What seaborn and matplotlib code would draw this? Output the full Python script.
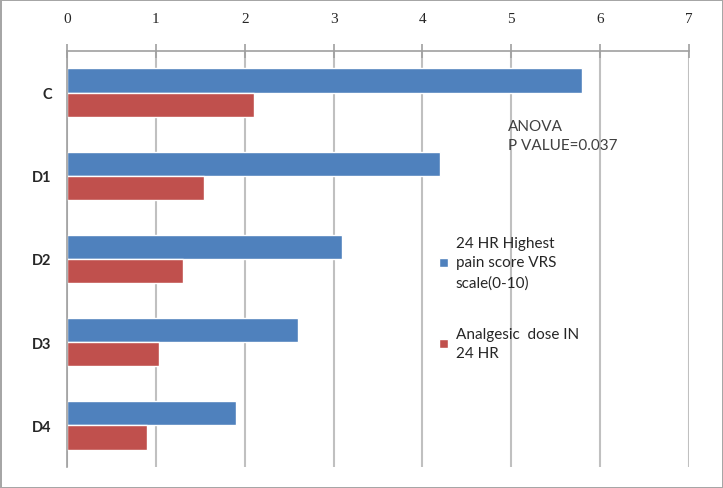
import matplotlib
matplotlib.use("Agg")
import matplotlib.pyplot as plt
import numpy as np
import pandas as pd
import seaborn as sns

groups = ["C", "D1", "D2", "D3", "D4"]
pain_score = [5.8, 4.2, 3.1, 2.6, 1.9]
analgesic_dose = [2.1, 1.54, 1.3, 1.04, 0.9]
series = ["24 HR Highest\npain score VRS\nscale(0-10)", "Analgesic  dose IN\n24 HR"]
xticks = [0, 1, 2, 3, 4, 5, 6, 7]

df = pd.DataFrame({
    "group": groups * 2,
    "value": pain_score + analgesic_dose,
    "series": [series[0]] * len(groups) + [series[1]] * len(groups),
})

sns.set_style("white")
plt.rcParams['font.family'] = ['Lato', 'DejaVu Sans']

fig = plt.figure(figsize=(7.23, 4.89), dpi=100)
fig.patch.set_edgecolor('#a6a6a6')
fig.patch.set_linewidth(2)
ax = fig.add_axes([67 / 723, 1 - 468 / 489, 622 / 723, 416 / 489])

sns.barplot(data=df, x="value", y="group", hue="series", orient="h",
            palette=["#4f81bd", "#c0504d"], width=0.58, gap=0,
            saturation=1, ax=ax, order=groups, hue_order=series)

ax.set_xlim(0, 7)
ax.set_ylim(4.5, -0.5)
ax.set_xticks(xticks)
ax.xaxis.tick_top()
ax.set_xlabel("")
ax.set_ylabel("")
ax.grid(axis="x", color="#c0c0c0", linewidth=1.5)
ax.set_axisbelow(True)

for s in ["bottom", "right"]:
    ax.spines[s].set_visible(False)
for s in ["top", "left"]:
    ax.spines[s].set_color("#a0a0a0")
    ax.spines[s].set_linewidth(1.2)

ax.tick_params(axis="x", direction="inout", length=10, width=1.2,
               color="#a0a0a0", pad=14, labelsize=11)
for lab in ax.get_xticklabels():
    lab.set_family(["Liberation Serif", "DejaVu Serif"])

ax.tick_params(axis="y", which="major", length=0, pad=11, labelsize=10.5)
for lab in ax.get_yticklabels():
    lab.set_fontweight("bold")
ax.set_yticks(np.arange(-0.5, len(groups), 1.0), minor=True)
ax.tick_params(axis="y", which="minor", direction="out", length=5,
               width=1.2, color="#a0a0a0")

leg = ax.legend(loc="upper left", bbox_to_anchor=(0.598, 0.556), frameon=False,
                fontsize=11, handlelength=0.6, handleheight=0.6,
                handletextpad=0.5, labelspacing=2.45, borderaxespad=0,
                borderpad=0)
for t in leg.get_texts():
    t.set_linespacing(1.5)

ax.text(0.709, 0.836, "ANOVA\nP VALUE=0.037", transform=ax.transAxes,
        fontsize=11, color="#404040", va="top", ha="left", linespacing=1.45)

fig.savefig("out.png", dpi=100, edgecolor=fig.get_edgecolor())
